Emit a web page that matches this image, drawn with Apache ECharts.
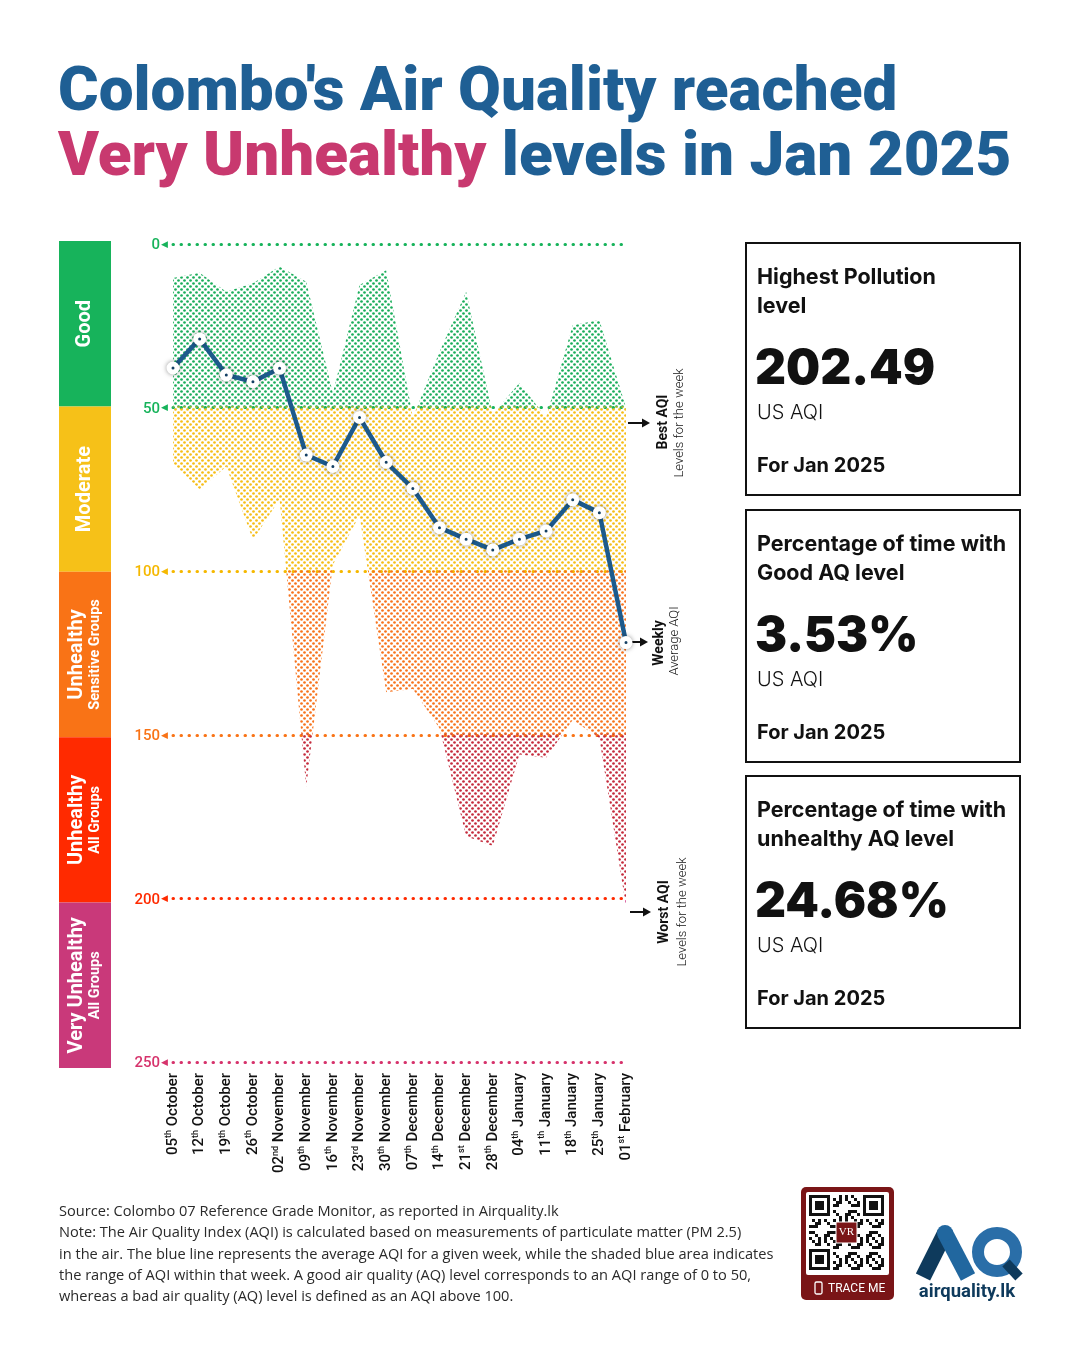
<!DOCTYPE html>
<html><head><meta charset="utf-8">
<script src="https://cdn.jsdelivr.net/npm/echarts@6/dist/echarts.min.js"></script>
<style>html,body{margin:0;padding:0;background:#fff}#c{width:1080px;height:1350px}</style>
</head><body><div id="c"></div>
<script>
// ---------------- DATA ----------------
const weeks = ['05th October','12th October','19th October','26th October','02nd November','09th November',
  '16th November','23rd November','30th November','07th December','14th December','21st December',
  '28th December','04th January','11th January','18th January','25th January','01st February'];
const weeklyAverage = [37.9, 29.0, 40.0, 42.1, 38.0, 64.5, 68.0, 53.0, 66.7, 74.7, 86.7, 90.2, 93.5, 90.2, 87.7, 78.2, 82.1, 121.8];
const weeklyBest    = [10.4, 8.8, 14.6, 12.0, 6.9, 11.5, 45.6, 12.5, 8.0, 53.0, 33.0, 14.6, 52.0, 42.5, 53.0, 24.8, 23.2, 50.0];
const weeklyWorst   = [67.0, 75.0, 68.0, 90.5, 78.0, 166.0, 98.0, 83.0, 137.0, 136.0, 148.0, 181.0, 184.0, 156.0, 157.0, 145.5, 151.0, 202.49];
const yTicks = [0, 50, 100, 150, 200, 250];
const bandLow  = [0, 50, 100, 150, 200];
const bandHigh = [50, 100, 150, 200, 250];
const bandLabels = ['{a|Good}', '{a|Moderate}', '{a|Unhealthy}\n{b|Sensitive Groups}', '{a|Unhealthy}\n{b|All Groups}', '{a|Very Unhealthy}\n{b|All Groups}'];
const bandSpan = [50, 50, 50, 50, 50];

// ---------------- STYLE ----------------
const bandColors = ['#17b35b', '#f6c118', '#f97316', '#ff2a00', '#c9397a'];
const dotColors  = ['#19ad5a', '#f6bd16', '#f7731c', '#c42a3c', '#d1448f'];
const tickColors = ['#17b35b', '#17b35b', '#f5b800', '#f97316', '#ff2a00', '#d6336c'];
const BLUE = '#1f5f94', MAG = '#c8396f';
const PLOT = {left: 173, top: 244, width: 453, height: 818};
const FONT = 'Roboto, "Noto Sans", sans-serif';

function dotPattern(color) {
  const c = document.createElement('canvas');
  c.width = 6; c.height = 6;
  const g = c.getContext('2d');
  g.fillStyle = color;
  [[1.5, 1.5], [4.5, 4.5]].forEach(p => { g.beginPath(); g.arc(p[0], p[1], 1.35, 0, Math.PI * 2); g.fill(); });
  return c;
}

const chart = echarts.init(document.getElementById('c'), null, {renderer: 'canvas', width: 1080, height: 1350});

const grids = [{left: PLOT.left, top: PLOT.top, width: PLOT.width, height: PLOT.height, outerBoundsMode: 'none'}];
const xAxes = [{
  type: 'category', gridIndex: 0, data: weeks, boundaryGap: false,
  axisLine: {show: false}, axisTick: {show: false},
  axisLabel: {
    interval: 0, rotate: 90, margin: 11, color: '#111', fontFamily: FONT,
    formatter: v => { const m = v.match(/^(\d+)(st|nd|rd|th) (.*)$/); return '{d|' + m[1] + '}{s|' + m[2] + '}{m| ' + m[3] + '}'; },
    rich: {
      d: {fontSize: 15, fontWeight: 500, fontFamily: FONT, color: '#111', lineHeight: 17},
      s: {fontSize: 9, fontWeight: 500, fontFamily: FONT, color: '#111', lineHeight: 10, verticalAlign: 'top'},
      m: {fontSize: 15, fontWeight: 500, fontFamily: FONT, color: '#111', lineHeight: 17}
    }
  }
}];
const yAxes = [{
  type: 'value', gridIndex: 0, min: 0, max: 250, interval: 50, inverse: true,
  axisLine: {show: false}, axisTick: {show: false},
  axisLabel: {
    margin: 5, fontFamily: FONT,
    color: (v) => tickColors[yTicks.indexOf(+v)] || '#333',
    formatter: '{a|{value}}{t|◀}',
    rich: {a: {fontSize: 15, fontWeight: 500, fontFamily: FONT, padding: [3, 0, 0, 0]}, t: {fontSize: 9, fontFamily: 'DejaVu Sans', padding: [1, 0, 0, 1]}}
  },
  splitLine: {show: true, lineStyle: {color: tickColors, width: 3, type: [0.5, 7.5], cap: 'round'}}
}];
const series = [];

// band-clipped range areas: one grid per AQI band, same data drawn through each band's own scale
bandLow.forEach((lo, i) => {
  const hi = bandHigh[i];
  const gi = i + 1;
  grids.push({left: PLOT.left, width: PLOT.width, top: PLOT.top + PLOT.height * lo / 250, height: PLOT.height * (hi - lo) / 250, outerBoundsMode: 'none'});
  xAxes.push({type: 'category', gridIndex: gi, data: weeks, boundaryGap: false, show: false});
  yAxes.push({type: 'value', gridIndex: gi, min: lo, max: hi, inverse: true, show: false, splitLine: {show: false}});
  series.push({type: 'line', xAxisIndex: gi, yAxisIndex: gi, stack: 'band' + i, data: weeklyBest,
    symbol: 'none', lineStyle: {opacity: 0}, silent: true, z: 2, clip: true});
  series.push({type: 'line', xAxisIndex: gi, yAxisIndex: gi, stack: 'band' + i, data: weeklyWorst.map((v, k) => v - weeklyBest[k]),
    symbol: 'none', lineStyle: {opacity: 0}, silent: true, z: 2, clip: true,
    areaStyle: {color: {image: dotPattern(dotColors[i]), repeat: 'repeat'}, opacity: 1}});
});

// weekly average line
series.push({
  type: 'line', xAxisIndex: 0, yAxisIndex: 0, data: weeklyAverage, z: 10,
  symbol: 'circle', symbolSize: 8,
  lineStyle: {color: '#1d5a8c', width: 4.5},
  itemStyle: {color: '#1d5a8c', borderColor: '#fff', borderWidth: 5, shadowBlur: 5, shadowColor: 'rgba(0,0,0,0.35)'}
});

// AQI band legend bar (left)
const LG = 6;
grids.push({left: 59, width: 52, top: 241, height: 827, outerBoundsMode: 'none'});
xAxes.push({type: 'category', gridIndex: LG, data: ['AQI'], show: false});
yAxes.push({type: 'value', gridIndex: LG, min: 0, max: 250, inverse: true, show: false, splitLine: {show: false}});
bandSpan.forEach((v, i) => {
  series.push({type: 'bar', xAxisIndex: LG, yAxisIndex: LG, stack: 'legend', barWidth: '100%', data: [v],
    itemStyle: {color: bandColors[i]}, silent: true,
    label: {show: true, position: 'inside', rotate: 90, formatter: bandLabels[i], color: '#fff',
      rich: {a: {fontSize: 20, fontWeight: 'bold', fontFamily: FONT, color: '#fff', lineHeight: 21, align: 'center'},
             b: {fontSize: 14.5, fontWeight: 'bold', fontFamily: FONT, color: '#fff', lineHeight: 17, align: 'center'}}}});
});

// ---------------- GRAPHIC (titles, cards, notes, logos) ----------------
const g = [];
function txt(x, y, text, o) {
  g.push(Object.assign({type: 'text', x: x, y: y, silent: true,
    style: Object.assign({text: text, fontFamily: FONT, fill: '#111', verticalAlign: 'middle', align: 'left'}, o || {})}));
}
txt(58, 94, "Colombo's Air Quality reached", {fontSize: 62, fontWeight: 900, fill: BLUE});
txt(58, 159, '{m|Very Unhealthy }{b|levels in Jan 2025}', {rich: {
  m: {fontSize: 62, fontWeight: 900, fill: MAG, fontFamily: FONT},
  b: {fontSize: 62, fontWeight: 900, fill: BLUE, fontFamily: FONT}}});

// cards
const CF = 'Inter, Roboto, sans-serif';
const cards = [
  {top: 243, l1: 'Highest Pollution', l2: 'level', big: '202.49'},
  {top: 510, l1: 'Percentage of time with', l2: 'Good AQ level', big: '3.53%'},
  {top: 776, l1: 'Percentage of time with', l2: 'unhealthy AQ level', big: '24.68%'}
];
cards.forEach(c => {
  g.push({type: 'rect', shape: {x: 746, y: c.top, width: 274, height: 252}, style: {fill: 'none', stroke: '#111', lineWidth: 2}, silent: true});
  txt(757, c.top + 35, c.l1, {fontSize: 21.5, fontWeight: 'bold', fontFamily: CF});
  txt(757, c.top + 64, c.l2, {fontSize: 21.5, fontWeight: 'bold', fontFamily: CF});
  txt(755, c.top + 127, c.big, {fontSize: 48, fontWeight: 900, fontFamily: CF});
  txt(757, c.top + 170, 'US AQI', {fontSize: 20, fontWeight: 300, fontFamily: CF});
  txt(757, c.top + 223, 'For Jan 2025', {fontSize: 20, fontWeight: 'bold', fontFamily: CF});
});

// annotation arrows + rotated labels
function arrow(x1, x2, y) {
  g.push({type: 'line', shape: {x1: x1, y1: y, x2: x2 - 6, y2: y}, style: {stroke: '#111', lineWidth: 2}, silent: true});
  g.push({type: 'polygon', shape: {points: [[x2, y], [x2 - 8, y - 4.5], [x2 - 8, y + 4.5]]}, style: {fill: '#111'}, silent: true});
}
arrow(628, 650, 423);
arrow(630, 648, 642);
arrow(630, 651, 912);
function vtxt(x, y, text, o) {
  g.push({type: 'text', x: x, y: y, rotation: Math.PI / 2, silent: true,
    style: Object.assign({text: text, fontFamily: FONT, fill: '#111', align: 'center', verticalAlign: 'middle'}, o)});
}
vtxt(663, 422, 'Best AQI', {fontSize: 14, fontWeight: 'bold'});
vtxt(680, 423, 'Levels for the week', {fontSize: 13, fontWeight: 300});
vtxt(659, 643, 'Weekly', {fontSize: 14, fontWeight: 'bold'});
vtxt(675, 641, 'Average AQI', {fontSize: 13, fontWeight: 300});
vtxt(664, 912, 'Worst AQI', {fontSize: 14, fontWeight: 'bold'});
vtxt(683, 912, 'Levels for the week', {fontSize: 13, fontWeight: 300});

// footnote
const notes = [
  'Source: Colombo 07 Reference Grade Monitor, as reported in Airquality.lk',
  'Note: The Air Quality Index (AQI) is calculated based on measurements of particulate matter (PM 2.5)',
  'in the air. The blue line represents the average AQI for a given week, while the shaded blue area indicates',
  'the range of AQI within that week. A good air quality (AQ) level corresponds to an AQI range of 0 to 50,',
  'whereas a bad air quality (AQ) level is defined as an AQI above 100.'
];
notes.forEach((n, i) => txt(59, 1212 + i * 21.2, n, {fontSize: 14.6, fill: '#2a2a2a', fontFamily: '"Open Sans", Roboto, sans-serif'}));

// QR badge (decorative)
g.push({type: 'rect', shape: {x: 801, y: 1187, width: 93, height: 113, r: 5}, style: {fill: '#7a1517'}, silent: true});
g.push({type: 'rect', shape: {x: 806, y: 1192, width: 83, height: 83, r: 2}, style: {fill: '#fff'}, silent: true});
const qx = 809, qy = 1195, m = 3;
function finder(cx, cy) {
  g.push({type: 'rect', shape: {x: cx, y: cy, width: 7 * m, height: 7 * m}, style: {fill: '#111'}, silent: true});
  g.push({type: 'rect', shape: {x: cx + m, y: cy + m, width: 5 * m, height: 5 * m}, style: {fill: '#fff'}, silent: true});
  g.push({type: 'rect', shape: {x: cx + 2 * m, y: cy + 2 * m, width: 3 * m, height: 3 * m}, style: {fill: '#111'}, silent: true});
}
finder(qx, qy); finder(qx + 18 * m, qy); finder(qx, qy + 18 * m);
for (let r = 0; r < 25; r++) for (let c = 0; c < 25; c++) {
  const inF = (r < 8 && c < 8) || (r < 8 && c > 16) || (r > 16 && c < 8);
  const inC = r > 8 && r < 16 && c > 8 && c < 16;
  if (inF || inC) continue;
  if (((r * 31 + c * 17 + r * c) % 7) < 3) g.push({type: 'rect', shape: {x: qx + c * m, y: qy + r * m, width: m, height: m}, style: {fill: '#111'}, silent: true});
}
g.push({type: 'rect', shape: {x: qx + 9 * m, y: qy + 9 * m, width: 7 * m, height: 7 * m}, style: {fill: '#7a1517', stroke: '#fff', lineWidth: 1}, silent: true});
txt(qx + 12.5 * m, qy + 12.5 * m, 'VR', {fontSize: 11, fill: '#fff', fontFamily: 'Liberation Serif, serif', align: 'center'});
g.push({type: 'rect', shape: {x: 815, y: 1282, width: 7, height: 12, r: 1.5}, style: {fill: 'none', stroke: '#fff', lineWidth: 1.3}, silent: true});
txt(828, 1289, 'TRACE ME', {fontSize: 12, fill: '#fff'});

// airquality.lk logo
g.push({type: 'line', shape: {x1: 923, y1: 1277, x2: 945, y2: 1233}, style: {stroke: '#0e3a5c', lineWidth: 16}, silent: true});
g.push({type: 'line', shape: {x1: 945, y1: 1233, x2: 968, y2: 1277}, style: {stroke: '#21679f', lineWidth: 16}, silent: true});
g.push({type: 'circle', shape: {cx: 945, cy: 1233, r: 8}, style: {fill: '#21679f'}, silent: true});
g.push({type: 'circle', shape: {cx: 997, cy: 1252, r: 19}, style: {fill: 'none', stroke: '#2a6ea8', lineWidth: 12}, silent: true});
g.push({type: 'line', shape: {x1: 1006, y1: 1263, x2: 1019, y2: 1277}, style: {stroke: '#0e3a5c', lineWidth: 10}, silent: true});
txt(967, 1292, 'airquality.lk', {fontSize: 18.5, fontWeight: 'bold', fill: '#0e3a5c', align: 'center'});

chart.setOption({
  animation: false,
  backgroundColor: '#fff',
  grid: grids, xAxis: xAxes, yAxis: yAxes, series: series,
  graphic: g
});
</script></body></html>
